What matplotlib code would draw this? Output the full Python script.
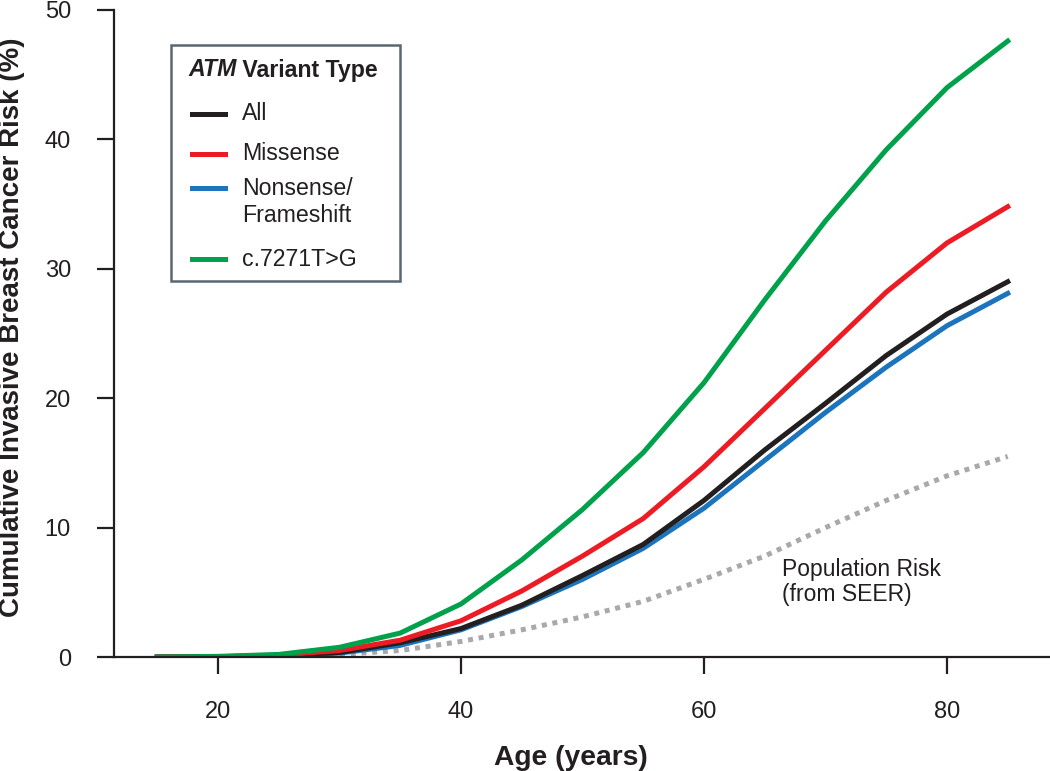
import matplotlib
matplotlib.use("Agg")
import matplotlib.pyplot as plt
from matplotlib.patches import Rectangle
from matplotlib.lines import Line2D

plt.rcParams['font.family'] = ['Liberation Sans', 'DejaVu Sans']

ages = [15, 20, 25, 30, 35, 40, 45, 50, 55, 60, 65, 70, 75, 80, 85]
risk_all = [0, 0.02, 0.1, 0.35, 1.1, 2.2, 4.0, 6.3, 8.7, 12.1, 16.0, 19.6, 23.3, 26.5, 29.0]
risk_missense = [0, 0.02, 0.15, 0.5, 1.3, 2.8, 5.1, 7.8, 10.7, 14.7, 19.2, 23.7, 28.2, 32.0, 34.8]
risk_nonsense = [0, 0.02, 0.1, 0.3, 0.9, 2.1, 3.9, 6.0, 8.4, 11.5, 15.2, 18.9, 22.4, 25.6, 28.1]
risk_c7271 = [0, 0.05, 0.2, 0.75, 1.85, 4.1, 7.5, 11.4, 15.8, 21.2, 27.6, 33.7, 39.2, 44.0, 47.6]
risk_population = [0, 0.0, 0.05, 0.2, 0.5, 1.2, 2.1, 3.1, 4.3, 6.0, 7.8, 10.0, 12.1, 14.0, 15.5]

x_ticks = [20, 40, 60, 80]
y_ticks = [0, 10, 20, 30, 40, 50]

c_black = '#231f20'
c_red = '#ed1c24'
c_blue = '#1c75bc'
c_green = '#00a14b'
c_gray = '#a7a9ac'

W, H = 1050, 771
fig = plt.figure(figsize=(W / 100, H / 100), dpi=100)
ax = fig.add_axes([114 / W, (H - 657) / H, (W - 114) / W, (657 - 10) / H])

lw = 3.6
ax.plot(ages, risk_population, color=c_gray, lw=lw, linestyle=(0, (1, 1.15)), solid_capstyle='butt', dash_capstyle='butt')
ax.plot(ages, risk_nonsense, color=c_blue, lw=lw)
ax.plot(ages, risk_all, color=c_black, lw=lw)
ax.plot(ages, risk_missense, color=c_red, lw=lw)
ax.plot(ages, risk_c7271, color=c_green, lw=lw)

ax.set_xlim(20 + (114 - 218) / 12.15, 20 + (1050 - 218) / 12.15)
ax.set_ylim(0, 50)
ax.set_xticks(x_ticks)
ax.set_yticks(y_ticks)
for s in ['top', 'right']:
    ax.spines[s].set_visible(False)
for s in ['left', 'bottom']:
    ax.spines[s].set_linewidth(1.6)
    ax.spines[s].set_color('#231f20')
ax.tick_params(axis='both', length=12.5, width=1.6, color='#231f20', labelsize=17, labelcolor='#231f20')
ax.tick_params(axis='y', pad=18.5)
ax.tick_params(axis='x', pad=19)


def fx(px):
    return px / W


def fy(py):
    return 1 - py / H


fig.text(fx(571), fy(765), 'Age (years)', fontsize=20.3, fontweight='bold',
         ha='center', va='baseline', color='#231f20')
fig.text(fx(12), fy(327), 'Cumulative Invasive Breast Cancer Risk (%)', fontsize=20,
         fontweight='bold', rotation=90, ha='center', va='center', color='#231f20')

fig.text(fx(782), fy(582), 'Population Risk\n(from SEER)',
         fontsize=16.5, va='center', ha='left', color='#231f20', linespacing=1.15)

# legend box (manual)
fig.patches.append(Rectangle((fx(171), fy(281)), fx(400) - fx(171), fy(45) - fy(281),
                             transform=fig.transFigure, fill=True, facecolor='white',
                             edgecolor='#5b6770', lw=1.8, zorder=5))
t1 = fig.text(fx(188), fy(70), 'ATM', fontsize=16.7, fontweight='bold', fontstyle='italic',
              va='center', ha='left', color='#231f20', zorder=6)
fig.canvas.draw()
bb = t1.get_window_extent()
fig.text(bb.x1 / W, fy(70), ' Variant Type', fontsize=16.7, fontweight='bold',
         va='center', ha='left', color='#231f20', zorder=6)

entries = [(c_black, 'All', 114, 114), (c_red, 'Missense', 154, 154),
           (c_blue, 'Nonsense/\nFrameshift', 188, 202), (c_green, 'c.7271T>G', 259, 260)]
for col, lab, yline, ytext in entries:
    fig.lines.append(Line2D([fx(192), fx(225)], [fy(yline), fy(yline)], transform=fig.transFigure,
                            color=col, lw=lw, zorder=6))
    fig.text(fx(242), fy(ytext), lab, fontsize=16.7, va='center', ha='left', color='#231f20',
             zorder=6, linespacing=1.2)

fig.savefig('out.png', dpi=100)
